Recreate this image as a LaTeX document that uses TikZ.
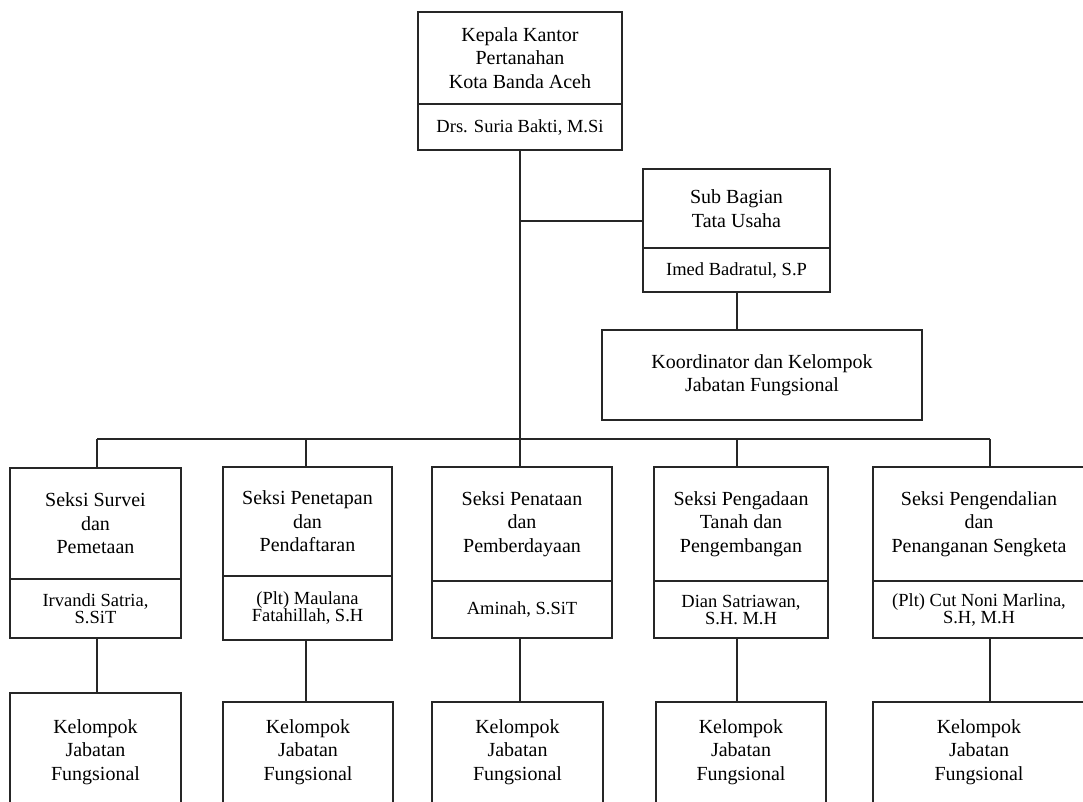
\documentclass[tikz,border=0pt]{standalone}
\usepackage{fontspec}
\setmainfont{Liberation Serif}
\begin{document}
\begin{tikzpicture}[x=1pt,y=-1pt,
  box/.style={draw=black!85, line width=1.5pt, align=center, inner sep=0pt,
    font=\fontsize{20}{23.5}\selectfont},
  namebox/.style={box, font=\fontsize{18.5}{17}\selectfont},
  link/.style={draw=black!85, line width=1.5pt}]
\useasboundingbox (0,0) rectangle (1083,801);
\clip (0,0) rectangle (1083,801);
% head
\node[box, minimum width=204, minimum height=92] (head) at (520,58) {Kepala Kantor\\Pertanahan\\Kota Banda Aceh};
\node[namebox, minimum width=204, minimum height=46] (headn) at (520,127) {Drs. Suria Bakti, M.Si};
% sub bagian
\node[box, minimum width=187, minimum height=79] (sub) at (736.5,208.5) {Sub Bagian\\Tata Usaha};
\node[namebox, minimum width=187, minimum height=44] (subn) at (736.5,270) {Imed Badratul, S.P};
\node[box, minimum width=320, minimum height=90] (koor) at (762,375) {Koordinator dan Kelompok\\Jabatan Fungsional};
% sections
\node[box, minimum width=171, minimum height=111] (s1) at (95.5,523.5) {Seksi Survei\\dan\\Pemetaan};
\node[namebox, minimum width=171, minimum height=59] (s1n) at (95.5,608.5) {Irvandi Satria,\\S.SiT};
\node[box, minimum width=169, minimum height=109] (s2) at (307.5,521.5) {Seksi Penetapan\\dan\\Pendaftaran};
\node[namebox, minimum width=169, minimum height=64] (s2n) at (307.5,608) {(Plt) Maulana\\Fatahillah, S.H};
\node[box, minimum width=180, minimum height=114] (s3) at (522,524) {Seksi Penataan\\dan\\Pemberdayaan};
\node[namebox, minimum width=180, minimum height=57] (s3n) at (522,609.5) {Aminah, S.SiT};
\node[box, minimum width=174, minimum height=114] (s4) at (741,524) {Seksi Pengadaan\\Tanah dan\\Pengembangan};
\node[namebox, minimum width=174, minimum height=57] (s4n) at (741,609.5) {Dian Satriawan,\\S.H. M.H};
\node[box, minimum width=212, minimum height=114] (s5) at (979,524) {Seksi Pengendalian\\dan\\Penanganan Sengketa};
\node[namebox, minimum width=212, minimum height=57] (s5n) at (979,609.5) {(Plt) Cut Noni Marlina,\\S.H, M.H};
% functional groups (run past the lower edge of the picture)
\node[box, minimum width=171, minimum height=160] (k1) at (95.5,773) {Kelompok\\Jabatan\\Fungsional\rule[-46pt]{0pt}{0pt}};
\node[box, minimum width=170, minimum height=160] (k2) at (308,782) {Kelompok\\Jabatan\\Fungsional\rule[-64pt]{0pt}{0pt}};
\node[box, minimum width=171, minimum height=160] (k3) at (517.5,782) {Kelompok\\Jabatan\\Fungsional\rule[-64pt]{0pt}{0pt}};
\node[box, minimum width=170, minimum height=160] (k4) at (741,782) {Kelompok\\Jabatan\\Fungsional\rule[-64pt]{0pt}{0pt}};
\node[box, minimum width=212, minimum height=160] (k5) at (979,782) {Kelompok\\Jabatan\\Fungsional\rule[-64pt]{0pt}{0pt}};
% connectors
\coordinate (br) at (520,221);
\coordinate (trunk) at (520,439);
\coordinate (b1) at (97,439);
\coordinate (b2) at (306,439);
\coordinate (b3) at (520,439);
\coordinate (b4) at (737,439);
\coordinate (b5) at (990,439);
\draw[link] (headn.south) -- (trunk);
\draw[link] (br) -- (br -| sub.west);
\draw[link] (subn.south -| b4) -- (b4 |- koor.north);
\draw[link] (b1) -- (b5);
\foreach \i in {1,...,5}{
  \draw[link] (b\i) -- (b\i |- s\i.north);
  \draw[link] (b\i |- s\i n.south) -- (b\i |- k\i.north);
}
\end{tikzpicture}
\end{document}
